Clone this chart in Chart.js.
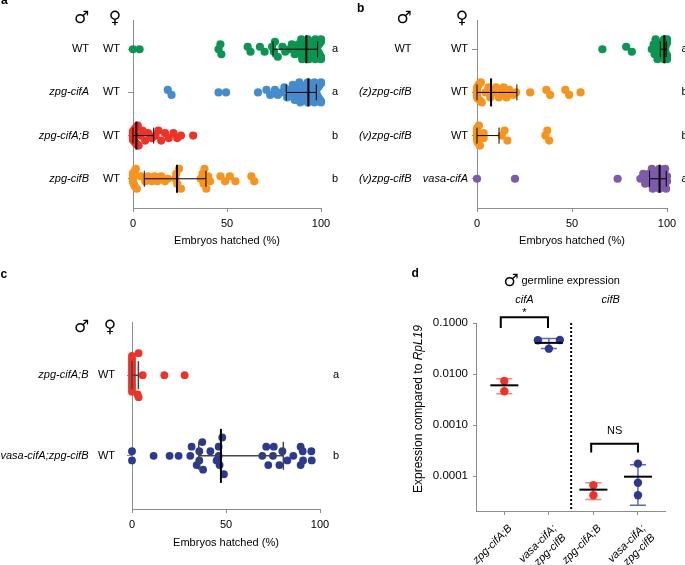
<!DOCTYPE html>
<html>
<head>
<meta charset="utf-8">
<script src="https://cdn.jsdelivr.net/npm/chart.js@4.4.1/dist/chart.umd.min.js"></script>
<style>
  html, body { margin: 0; padding: 0; background: #fff; }
  #wrap { position: relative; width: 685px; height: 565px; overflow: hidden; }
  #wrap canvas { position: absolute; }
</style>
</head>
<body>
<div id="wrap">
  <canvas id="chartA" width="340" height="250" style="left:0;top:0"></canvas>
  <canvas id="chartB" width="345" height="250" style="left:340px;top:0"></canvas>
  <canvas id="chartC" width="340" height="300" style="left:0;top:265px"></canvas>
  <canvas id="chartD" width="345" height="300" style="left:340px;top:265px"></canvas>
</div>
<script>
// ---- panel a: hatch rates (%) per cross ----
const aMale = ['WT', 'zpg-cifA', 'zpg-cifA;B', 'zpg-cifB'];
const aFemale = ['WT', 'WT', 'WT', 'WT'];
const aLetters = ['a', 'a', 'b', 'b'];
const aWT = [0, 3.5, 45.5, 46.5, 47, 61, 62.5, 67.5, 70, 74, 75, 75.5, 77, 79.5, 81, 83, 84.5, 86, 87, 88, 89, 89.5, 90, 90.5, 91, 91.5, 92, 92, 92.5, 93, 93, 93.5, 94, 94, 94.5, 95, 95, 95.5, 95.5, 96, 96, 96.5, 96.5, 97, 97, 97, 97.5, 97.5, 98, 98, 98, 98.5, 98.5, 99, 99, 99, 99.5, 99.5, 100, 100, 100, 100, 100, 100];
const aCifA = [18.5, 20.5, 45.5, 49.5, 66.5, 71, 73, 75.5, 77, 79, 80.5, 82, 83, 84, 85, 86, 86.5, 87, 88, 88.5, 89, 90, 90.5, 91, 91.5, 92, 92, 92.5, 93, 93, 93.5, 94, 94, 94.5, 95, 95, 95.5, 95.5, 96, 96, 96.5, 96.5, 97, 97, 97, 97.5, 97.5, 98, 98, 98, 98.5, 98.5, 99, 99, 99, 99.5, 100, 100, 100, 100];
const aCifAB = [0, 0, 0, 0, 0, 0, 0, 0, 0.5, 0.5, 1, 1, 1.5, 1.5, 2, 2, 2.5, 3, 4, 5, 6.5, 8, 10, 12, 13.5, 15, 17, 19, 21.5, 23.5, 25.5, 32];
const aCifB = [0, 0, 0, 0, 0, 0.5, 1, 1, 1.5, 2, 4, 6.5, 8, 10, 11.5, 13, 15, 17, 18.5, 22.5, 23, 23.5, 24.5, 25.5, 36, 37, 37.5, 38, 39, 40, 41, 46.5, 49, 51.5, 54.5, 63, 64.5];
const aCenter = [92.2, 93.3, 1.8, 23.4];
const aLow = [74.5, 81.5, 0, 6];
const aHigh = [98.2, 97.5, 11, 38.8];

// ---- panel b ----
const bMale = ['WT', '(z)zpg-cifB', '(v)zpg-cifB', '(v)zpg-cifB'];
const bFemale = ['WT', 'WT', 'WT', 'vasa-cifA'];
const bLetters = ['a', 'b', 'b', 'a'];
const bWT = [66, 78.5, 81.5, 92, 93, 93.5, 94, 95, 95.5, 96, 96, 96.5, 97, 97, 97.5, 97.5, 98, 98, 98, 98.5, 98.5, 99, 99, 99, 99, 99.5, 99.5, 100, 100, 100, 100, 100, 100];
const bZCifB = [0, 0, 0, 0, 0, 0, 0.5, 0.5, 1, 1.5, 2, 2.5, 4.5, 6, 7, 8.5, 10, 11.5, 13, 14, 15.5, 17, 19, 20.5, 28, 36.5, 38.5, 46.5, 48.5, 54.5];
const bVCifB = [0, 0, 0, 0, 0, 0.5, 1, 1.5, 3.5, 3.5, 13, 14.5, 16, 36, 37, 38];
const bVasa = [0, 20, 74, 86, 87.5, 88.5, 89.5, 90.5, 91.5, 92, 92.5, 93, 93.5, 94, 94.5, 95, 95, 95.5, 96, 96, 96.5, 97, 97, 97.5, 98, 98, 98.5, 99, 99, 99.5, 100, 100];
const bCenter = [98.6, 7.4, null, 96.1];
const bLow = [96.5, 0, 0, 90.8];
const bHigh = [99.6, 21, 11.6, 99.6];

// ---- panel c ----
const cMale = ['zpg-cifA;B', 'vasa-cifA;zpg-cifB'];
const cFemale = ['WT', 'WT'];
const cLetters = ['a', 'b'];
const cCifAB = [0, 0, 0, 0, 0, 0, 0, 0, 0, 0, 0, 0, 0, 0, 3, 3.5, 3.5, 5.7, 17.2, 28];
const cVasaCifB = [0, 0, 11.5, 20, 24.8, 31, 31.7, 34.4, 35.8, 35.8, 37.4, 37.8, 41.7, 45, 46.1, 46.1, 46.6, 48, 48.9, 69.3, 71.4, 72.5, 75, 75.4, 78.4, 80, 82.6, 85.8, 89.7, 89.7, 90.8, 91, 95.4, 95.6];
const cCenter = [null, 47.3];
const cLow = [0, 35.5];
const cHigh = [3.4, 80.5];

const hatchTicks = [0, 50, 100];

// ---- panel d: germline expression vs RpL19 ----
const dCats = ['zpg-cifA;B', ['vasa-cifA;', 'zpg-cifB'], 'zpg-cifA;B', ['vasa-cifA;', 'zpg-cifB']];
const dRedA = [0.0073, 0.0046];
const dBlueA = [0.046, 0.0465, 0.0314];
const dRedB = [6.6e-5, 4.2e-5];
const dBlueB = [1.75e-4, 7.4e-5, 4.2e-5];
const dMean = [0.006, 0.0408, 5.4e-5, 9.7e-5];
const dLow = [0.0041, 0.0315, 3.46e-5, 2.66e-5];
const dHigh = [0.0081, 0.0494, 7.4e-5, 1.67e-4];
const dTicks = [0.0001, 0.001, 0.01, 0.1];

const GREEN = '#0A9650', BLUE = '#468CCD', RED = '#EE3228', ORANGE = '#F7941E', PURPLE = '#7D5AAA', NAVY = '#2B3990';
const FONT = '"Liberation Sans", Arial, Helvetica, sans-serif';
Chart.defaults.font.family = FONT;
Chart.defaults.color = '#000';

// stack points that fall in the same bin (pixel space), like a column scatter
function swarm(pix, binPx, stepMax, maxHalf) {
  const idx = pix.map((p, i) => i).sort((a, b) => pix[a] - pix[b]);
  const out = new Array(pix.length).fill(0);
  let i = 0;
  while (i < idx.length) {
    const start = pix[idx[i]];
    let j = i;
    while (j < idx.length && pix[idx[j]] - start < binPx) j++;
    const n = j - i;
    const step = n > 1 ? Math.min(stepMax, 2 * maxHalf / (n - 1)) : 0;
    const slots = [];
    for (let k = 0; k < n; k++) slots.push((k - (n - 1) / 2) * step);
    slots.sort((a, b) => Math.abs(a) - Math.abs(b) || a - b);
    for (let k = 0; k < n; k++) out[idx[i + k]] = slots[k];
    i = j;
  }
  return out;
}

const hBars = {
  id: 'hBars',
  afterDatasetsDraw(chart, args, o) {
    const { ctx, scales: { x, y } } = chart;
    ctx.save();
    ctx.strokeStyle = o.color;
    o.low.forEach((lo, r) => {
      const py = y.getPixelForValue(r);
      const x1 = x.getPixelForValue(lo), x2 = x.getPixelForValue(o.high[r]);
      ctx.lineWidth = o.lineW;
      ctx.beginPath();
      ctx.moveTo(x1, py); ctx.lineTo(x2, py);
      ctx.moveTo(x1, py - o.cap); ctx.lineTo(x1, py + o.cap);
      ctx.moveTo(x2, py - o.cap); ctx.lineTo(x2, py + o.cap);
      ctx.stroke();
      if (o.center[r] != null) {
        const xc = x.getPixelForValue(o.center[r]);
        ctx.lineWidth = 2;
        ctx.strokeStyle = '#000';
        ctx.beginPath();
        ctx.moveTo(xc, py - o.meanH); ctx.lineTo(xc, py + o.meanH);
        ctx.stroke();
        ctx.strokeStyle = o.color;
      }
    });
    ctx.restore();
  }
};

const rowLabels = {
  id: 'rowLabels',
  afterDraw(chart, args, o) {
    const { ctx, scales: { y } } = chart;
    const f = t => (t === 'WT' ? '' : 'italic ') + '11px ' + FONT;
    ctx.save();
    ctx.fillStyle = '#000';
    ctx.textBaseline = 'middle';
    o.male.forEach((m, i) => {
      const py = y.getPixelForValue(i);
      ctx.textAlign = 'right';
      ctx.font = f(m);
      ctx.fillText(m, o.maleX, py);
      ctx.font = f(o.female[i]);
      ctx.fillText(o.female[i], o.femaleX, py);
      ctx.textAlign = 'left';
      ctx.font = '11px ' + FONT;
      ctx.fillText(o.letters[i], o.letterX, py);
    });
    ctx.restore();
  }
};

function hatchChart(id, rows, colors, g, bars, labels) {
  const chart = new Chart(document.getElementById(id), {
    type: 'scatter',
    data: {
      datasets: rows.map((vals, r) => ({
        data: vals.map(v => ({ x: v, y: r })),
        backgroundColor: colors[r],
        pointRadius: g.r, pointHoverRadius: g.r, pointBorderWidth: 0,
        clip: false
      }))
    },
    options: {
      responsive: false, animation: false, events: [], devicePixelRatio: 1,
      layout: { padding: { top: g.top, right: g.right, left: 0, bottom: 0 } },
      plugins: { legend: { display: false }, tooltip: { enabled: false }, hBars: bars, rowLabels: labels },
      scales: {
        x: {
          type: 'linear', min: 0, max: 100,
          afterBuildTicks: s => { s.ticks = hatchTicks.map(v => ({ value: v })); },
          afterFit: s => { s.height = g.xh; },
          ticks: { font: { size: 11 }, padding: 5, maxRotation: 0 },
          grid: { drawOnChartArea: false, color: '#8c8c8c', tickLength: 4 },
          border: { color: '#8c8c8c' },
          title: { display: true, text: 'Embryos hatched (%)', font: { size: 11 }, padding: { top: 0, bottom: g.tb } }
        },
        y: {
          type: 'linear', reverse: true, min: -g.yPad, max: rows.length - 1 + g.yPad,
          afterBuildTicks: s => { s.ticks = rows.map((v, i) => ({ value: i })); },
          afterFit: s => { s.width = g.left; },
          ticks: { callback: () => '' },
          grid: { drawOnChartArea: false, color: '#8c8c8c', tickLength: 5 },
          border: { color: '#8c8c8c' }
        }
      }
    },
    plugins: [hBars, rowLabels]
  });
  const xs = chart.scales.x, ys = chart.scales.y;
  const perRow = Math.abs(ys.getPixelForValue(1) - ys.getPixelForValue(0));
  rows.forEach((vals, r) => {
    const off = swarm(vals.map(v => xs.getPixelForValue(v)), g.bin, g.step, g.half);
    chart.data.datasets[r].data = vals.map((v, i) => ({ x: v, y: r + off[i] / perRow }));
  });
  chart.update('none');
  return chart;
}

hatchChart('chartA', [aWT, aCifA, aCifAB, aCifB], [GREEN, BLUE, RED, ORANGE],
  { top: 20, right: 19, left: 133, xh: 42, tb: 2, yPad: 0.677, bin: 6, step: 5, half: 10, r: 4.1 },
  { center: aCenter, low: aLow, high: aHigh, cap: 8, meanH: 14, lineW: 1, color: '#000' },
  { male: aMale, female: aFemale, letters: aLetters, maleX: 89, femaleX: 120, letterX: 332 });

hatchChart('chartB', [bWT, bZCifB, bVCifB, bVasa], [GREEN, ORANGE, ORANGE, PURPLE],
  { top: 20, right: 18, left: 137, xh: 42, tb: 2, yPad: 0.677, bin: 6, step: 5, half: 10, r: 4.1 },
  { center: bCenter, low: bLow, high: bHigh, cap: 8, meanH: 14, lineW: 1, color: '#000' },
  { male: bMale, female: bFemale, letters: bLetters, maleX: 71.5, femaleX: 128, letterX: 341.5 });

hatchChart('chartC', [cCifAB, cVasaCifB], [RED, NAVY],
  { top: 57, right: 20, left: 132, xh: 56, tb: 15, yPad: 0.658, bin: 8, step: 9.2, half: 22, r: 3.9 },
  { center: cCenter, low: cLow, high: cHigh, cap: 14, meanH: 27, lineW: 1.5, color: '#444' },
  { male: cMale, female: cFemale, letters: cLetters, maleX: 88.5, femaleX: 115, letterX: 333 });

// ---- panel d ----
const vBars = {
  id: 'vBars',
  afterDatasetsDraw(chart) {
    const { ctx, chartArea, scales: { x, y } } = chart;
    ctx.save();
    // divider between cifA and cifB
    ctx.strokeStyle = '#000';
    ctx.lineWidth = 2;
    ctx.setLineDash([2, 2]);
    ctx.beginPath();
    ctx.moveTo(x.getPixelForValue(1.5), chartArea.top);
    ctx.lineTo(x.getPixelForValue(1.5), chartArea.bottom);
    ctx.stroke();
    ctx.setLineDash([]);
    const barCol = ['rgba(238,50,40,0.6)', 'rgba(43,57,144,0.75)', 'rgba(238,50,40,0.6)', 'rgba(43,57,144,0.75)'];
    dMean.forEach((m, i) => {
      const px = x.getPixelForValue(i);
      const y1 = y.getPixelForValue(dLow[i]), y2 = y.getPixelForValue(dHigh[i]);
      ctx.strokeStyle = barCol[i];
      ctx.lineWidth = 1.5;
      ctx.beginPath();
      ctx.moveTo(px, y1); ctx.lineTo(px, y2);
      ctx.moveTo(px - 8, y1); ctx.lineTo(px + 8, y1);
      ctx.moveTo(px - 8, y2); ctx.lineTo(px + 8, y2);
      ctx.stroke();
      ctx.strokeStyle = '#000';
      ctx.lineWidth = 2;
      ctx.beginPath();
      ctx.moveTo(px - 14, y.getPixelForValue(m)); ctx.lineTo(px + 14, y.getPixelForValue(m));
      ctx.stroke();
    });
    // significance brackets
    const brackets = [
      { from: -0.08, to: 0.98, top: 0.13, leg: 0.08, text: '*', lift: 4 },
      { from: 1.95, to: 3.0, top: 4.3e-4, leg: 2.9e-4, text: 'NS', lift: 13 }
    ];
    ctx.lineWidth = 2;
    ctx.fillStyle = '#000';
    ctx.textAlign = 'center';
    ctx.textBaseline = 'middle';
    brackets.forEach(b => {
      const xa = x.getPixelForValue(b.from), xb = x.getPixelForValue(b.to);
      const yt = y.getPixelForValue(b.top), yl = y.getPixelForValue(b.leg);
      ctx.beginPath();
      ctx.moveTo(xa, yl); ctx.lineTo(xa, yt); ctx.lineTo(xb, yt); ctx.lineTo(xb, yl);
      ctx.stroke();
      ctx.font = '11px ' + FONT;
      ctx.fillText(b.text, (xa + xb) / 2, yt - b.lift);
    });
    // gene group labels
    ctx.font = 'italic 11px ' + FONT;
    ctx.fillText('cifA', x.getPixelForValue(0.45), 35);
    ctx.fillText('cifB', x.getPixelForValue(2.39), 35);
    // y title with italic gene name
    const t1 = 'Expression compared to ', t2 = 'RpL19';
    ctx.translate(78.5, 144);
    ctx.rotate(-Math.PI / 2);
    ctx.font = '12px ' + FONT;
    const w1 = ctx.measureText(t1).width;
    ctx.font = 'italic 12px ' + FONT;
    const w2 = ctx.measureText(t2).width;
    ctx.textAlign = 'left';
    ctx.font = '12px ' + FONT;
    ctx.fillText(t1, -(w1 + w2) / 2, 0);
    ctx.font = 'italic 12px ' + FONT;
    ctx.fillText(t2, -(w1 + w2) / 2 + w1, 0);
    ctx.restore();
  }
};

const dGroups = [dRedA, dBlueA, dRedB, dBlueB];
const dColors = [RED, NAVY, RED, NAVY];
const chartD = new Chart(document.getElementById('chartD'), {
  type: 'scatter',
  data: {
    datasets: dGroups.map((vals, i) => ({
      data: vals.map(v => ({ x: i, y: v })),
      backgroundColor: dColors[i],
      pointRadius: 4.2, pointHoverRadius: 4.2, pointBorderWidth: 0, clip: false
    }))
  },
  options: {
    responsive: false, animation: false, events: [], devicePixelRatio: 1,
    layout: { padding: { top: 58, right: 20, left: 0, bottom: 0 } },
    plugins: { legend: { display: false }, tooltip: { enabled: false } },
    scales: {
      x: {
        type: 'linear', min: -0.636, max: 3.607,
        afterBuildTicks: s => { s.ticks = dCats.map((c, i) => ({ value: i })); },
        afterFit: s => { s.height = 54; },
        ticks: { callback: v => dCats[v], minRotation: 45, maxRotation: 45, autoSkip: false, font: { size: 11, style: 'italic' }, padding: 7, labelOffset: 6 },
        grid: { drawOnChartArea: false, color: '#8c8c8c', tickLength: 4 },
        border: { color: '#8c8c8c' }
      },
      y: {
        type: 'logarithmic', min: 2.06e-5, max: 0.1, bounds: 'data',
        afterBuildTicks: s => { s.ticks = dTicks.map(v => ({ value: v })); },
        afterFit: s => { s.width = 136; },
        ticks: { callback: v => Number(v).toFixed(4), font: { size: 11.5 }, padding: 5 },
        grid: { drawOnChartArea: false, color: '#8c8c8c', tickLength: 3 },
        border: { color: '#8c8c8c' }
      }
    }
  },
  plugins: [vBars]
});
(function () {
  const xs = chartD.scales.x, ys = chartD.scales.y;
  const perCat = xs.getPixelForValue(1) - xs.getPixelForValue(0);
  dGroups.forEach((vals, i) => {
    const off = swarm(vals.map(v => -ys.getPixelForValue(v)), 9, 11, 11);
    chartD.data.datasets[i].data = vals.map((v, k) => ({ x: i + off[k] / perCat, y: v }));
  });
  chartD.update('none');
})();

// ---- static headings ----
const wrap = document.getElementById('wrap');
function addText(str, x, base, size, o = {}) {
  const d = document.createElement('div');
  d.textContent = str;
  d.style.cssText = 'position:absolute;white-space:nowrap;color:#000;left:' + x + 'px;top:' + (base - 0.8465 * size) + 'px;' +
    'font:' + (o.style || 'normal') + ' ' + (o.weight || 'normal') + ' ' + size + 'px/' + size + 'px ' + (o.family || FONT) + ';' +
    (o.center ? 'transform:translateX(-50%);' : '');
  wrap.appendChild(d);
}
const SYM = '"DejaVu Sans", sans-serif';
addText('a', 1, 4.5, 12, { weight: 'bold' });
addText('b', 357, 11.7, 12, { weight: 'bold' });
addText('c', 0.5, 278.3, 12, { weight: 'bold' });
addText('d', 411.5, 276.7, 12, { weight: 'bold' });
addText('\u2642', 81.5, 23.5, 17, { center: true, family: SYM });
addText('\u2640', 115, 23.5, 17, { center: true, family: SYM });
addText('\u2642', 404, 23.5, 17, { center: true, family: SYM });
addText('\u2640', 462, 23.5, 17, { center: true, family: SYM });
addText('\u2642', 81.5, 332, 17, { center: true, family: SYM });
addText('\u2640', 110, 332, 17, { center: true, family: SYM });
addText('\u2642', 511, 286, 17, { center: true, family: SYM });
addText('germline expression', 521.5, 284, 11);
</script>
</body>
</html>
